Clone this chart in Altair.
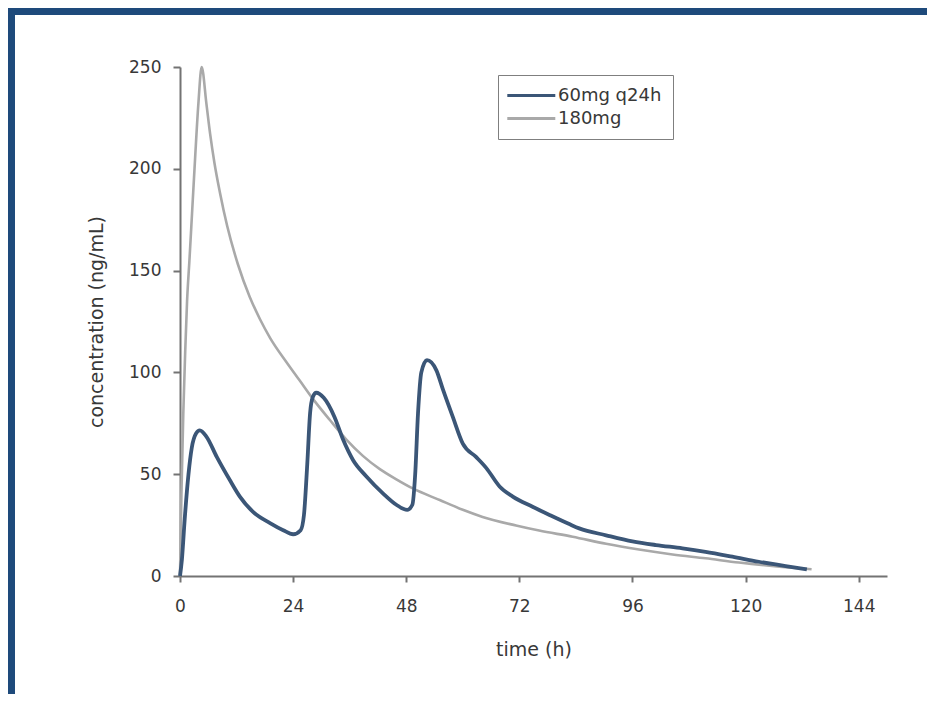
import altair as alt
import pandas as pd

# ---- data ----
blue_t = [0, 0.4, 1.0, 1.8, 2.5, 3.4, 4.2, 5.6, 7.8, 10.6, 12.7, 15.5, 19.1, 21.9, 24.0,
          25.6, 26.3, 27.0, 27.6, 28.2, 28.9, 30.5, 32.8, 34.6, 36.7, 39.5, 43.1, 45.9,
          48.2, 49.3, 49.9, 50.5, 51.2, 52.4, 54.4, 55.8, 57.9, 60.0, 62.8, 65.0, 67.8,
          70.6, 74.8, 78.4, 82.6, 84.7, 90.4, 96.0, 101.0, 106.6, 111.5, 117.2, 122.8,
          128.5, 133.0]
blue_c = [0, 8, 28, 50, 63, 70, 71.5, 68.5, 58.5, 47, 39, 31.5, 26, 22.5, 20.5,
          22.5, 30, 55, 80, 88, 90, 87.5, 78, 67, 57, 49, 40.5, 35,
          32.5, 35, 50, 80, 100, 106, 101, 91.5, 78, 65, 58.5, 53, 44,
          39, 34, 30, 25.5, 23.4, 20, 17, 15.2, 13.6, 11.9, 9.5, 7,
          4.9, 3.2]

gray_t = [0, 0.3, 0.7, 1.1, 1.5, 2.0, 2.6, 3.2, 3.9, 4.6, 5.6, 6.4, 7.3, 8.5, 10.0,
          12.3, 14.8, 17.0, 19.1, 22.6, 25.4, 28.2, 31.8, 35.3, 38.8, 42.4, 45.9, 49.4,
          55.1, 60.0, 64.2, 71.3, 76.2, 83.3, 90.4, 97.4, 104.5, 111.5, 118.6, 125.6, 134.0]
gray_c = [0, 40, 80, 110, 135, 155, 180, 205, 232, 250, 232, 217, 203, 188, 172,
          153, 137, 126, 117, 105, 96, 87, 76.6, 67, 59, 52.5, 47.5, 43,
          37.3, 32.5, 29, 24.8, 22.3, 19.3, 15.8, 13.0, 10.6, 8.7, 6.6, 4.9, 3.3]

series_names = ["60mg q24h", "180mg"]
series_colors = ["#3b5677", "#a9a9a9"]
x_ticks = [0, 24, 48, 72, 96, 120, 144]
y_ticks = [0, 50, 100, 150, 200, 250]

df_blue = pd.DataFrame({"t": blue_t, "c": blue_c, "s": series_names[0], "o": range(len(blue_t))})
df_gray = pd.DataFrame({"t": gray_t, "c": gray_c, "s": series_names[1], "o": range(len(gray_t))})

FONT = "DejaVu Sans"
FRAME = "#1e4a7b"
TEXT = "#383838"
W, H = 707, 509
PL, PT, PR, PB = 172, 59, 40, 118

x_enc = alt.X("t:Q", scale=alt.Scale(domain=[0, 150], nice=False),
              axis=alt.Axis(values=x_ticks, title="time (h)", grid=False, labelFlush=False,
                            tickSize=6, labelPadding=16, titlePadding=26))
y_enc = alt.Y("c:Q", scale=alt.Scale(domain=[0, 250], nice=False),
              axis=alt.Axis(values=y_ticks, title="concentration (ng/mL)", grid=False,
                            labelFlush=False,
                            tickSize=7, labelPadding=12, titlePadding=22))
# legend key: a ~48px line, extended to the right of a small symbol slot
color_enc = alt.Color("s:N", scale=alt.Scale(domain=series_names, range=series_colors),
                      legend=alt.Legend(title=None, orient="none", legendX=318, legendY=8,
                                        symbolType="M-1.4,0H4.6", symbolSize=256,
                                        symbolStrokeWidth=3, labelOffset=30,
                                        strokeColor="#7f7f7f", fillColor="white",
                                        padding=11, labelFontSize=18, labelFont=FONT,
                                        labelColor=TEXT, rowPadding=4))

gray_line = alt.Chart(df_gray).mark_line(interpolate="monotone", strokeWidth=2.6).encode(
    x=x_enc, y=y_enc, color=color_enc, order="o:Q")
blue_line = alt.Chart(df_blue).mark_line(interpolate="monotone", strokeWidth=3.8).encode(
    x=x_enc, y=y_enc, color=color_enc, order="o:Q")

# blue frame strips on the left and top edges (decoration)
frame_df = pd.DataFrame({"k": [0]})
frame_left = alt.Chart(frame_df).mark_rect(color=FRAME).encode(
    x=alt.value(-PL), x2=alt.value(-PL + 7), y=alt.value(-PT), y2=alt.value(H + PB))
frame_top = alt.Chart(frame_df).mark_rect(color=FRAME).encode(
    x=alt.value(-PL), x2=alt.value(W + PR), y=alt.value(-PT), y2=alt.value(-PT + 7))

chart = alt.layer(gray_line, blue_line, frame_left, frame_top).properties(
    width=W, height=H,
    autosize=alt.AutoSizeParams(type="none"),
    padding={"left": PL, "top": PT, "right": PR, "bottom": PB},
    background="white",
).configure_view(stroke=None).configure_axis(
    domainColor="#737373", domainWidth=2, tickColor="#737373", tickWidth=2,
    labelFont=FONT, labelFontSize=17, labelColor=TEXT,
    titleFont=FONT, titleFontSize=19, titleFontWeight="normal", titleColor=TEXT,
)

chart.save("out.html", embed_options={"renderer": "svg", "actions": False})
